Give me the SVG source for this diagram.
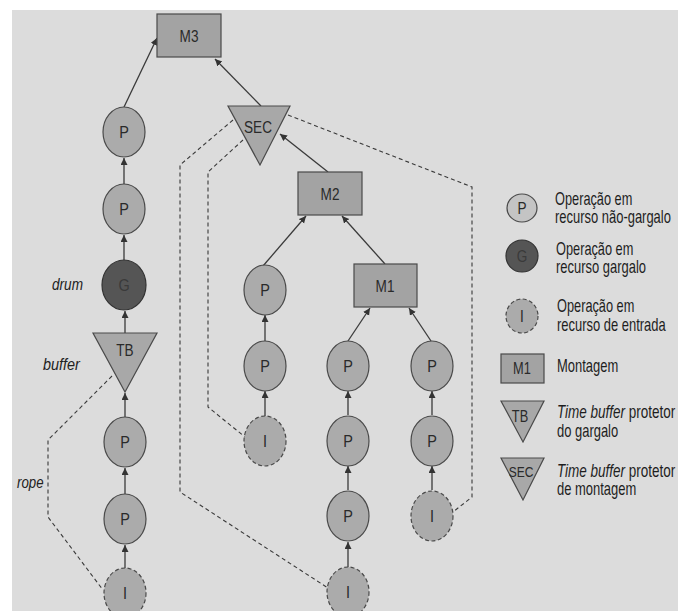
<svg xmlns="http://www.w3.org/2000/svg" width="678" height="611" viewBox="0 0 678 611">
<defs>
<marker id="ah" markerUnits="userSpaceOnUse" markerWidth="8" markerHeight="8" refX="7" refY="3.5" orient="auto">
<path d="M0,0 L7,3.5 L0,7 z" fill="#333"/>
</marker>
<style>
.bg{fill:#dcdcdc}
.op{fill:#ababab;stroke:#4a4a4a;stroke-width:1.2}
.opl{fill:#c4c4c4;stroke:#4a4a4a;stroke-width:1.2}
.gg{fill:#555;stroke:#333;stroke-width:1.2}
.in{fill:#ababab;stroke:#4a4a4a;stroke-width:1.2;stroke-dasharray:4 2.5}
.asm{fill:#a3a3a3;stroke:#4a4a4a;stroke-width:1.2}
.tri{fill:#a8a8a8;stroke:#4a4a4a;stroke-width:1.2}
.lbl{font-family:"Liberation Sans",Arial,sans-serif;font-size:17px;fill:#2a2a2a;text-anchor:middle}
.glbl{font-family:"Liberation Sans",Arial,sans-serif;font-size:17px;fill:#3a3a3a;text-anchor:middle}
.side{font-family:"Liberation Sans",Arial,sans-serif;font-size:17px;font-style:italic;fill:#222}
.leg{font-family:"Liberation Sans",Arial,sans-serif;font-size:18px;fill:#1e1e1e}
.arr{stroke:#3a3a3a;stroke-width:1.3;fill:none;marker-end:url(#ah)}
.rope{stroke:#3a3a3a;stroke-width:1.1;fill:none;stroke-dasharray:4 3}
</style>
</defs>
<rect x="0" y="0" width="678" height="611" fill="#ffffff"/>
<rect class="bg" x="12" y="10" width="666" height="601"/>

<g id="connectors">
<line class="arr" x1="124" y1="107" x2="157" y2="38"/>
<line class="arr" x1="124" y1="184" x2="124" y2="158"/>
<line class="arr" x1="124" y1="260" x2="124" y2="235"/>
<line class="arr" x1="125" y1="333" x2="125" y2="311"/>
<line class="arr" x1="125" y1="417" x2="125" y2="393"/>
<line class="arr" x1="125" y1="494" x2="125" y2="468"/>
<line class="arr" x1="125" y1="568" x2="125" y2="545"/>
<line class="arr" x1="261" y1="106" x2="215" y2="59"/>
<line class="arr" x1="328" y1="172" x2="280" y2="134"/>
<line class="arr" x1="263" y1="266" x2="306" y2="216"/>
<line class="arr" x1="385" y1="264" x2="342" y2="216"/>
<line class="arr" x1="265" y1="341" x2="265" y2="315"/>
<line class="arr" x1="265" y1="416" x2="265" y2="391"/>
<line class="arr" x1="348" y1="341" x2="370" y2="308"/>
<line class="arr" x1="348" y1="415" x2="348" y2="391"/>
<line class="arr" x1="348" y1="490" x2="348" y2="466"/>
<line class="arr" x1="348" y1="567" x2="348" y2="542"/>
<line class="arr" x1="431" y1="341" x2="409" y2="308"/>
<line class="arr" x1="432" y1="415" x2="432" y2="391"/>
<line class="arr" x1="432" y1="490" x2="432" y2="466"/>
<polyline class="rope" points="112,376 48,440 48,517 103,590"/>
<polyline class="rope" points="233,120 180,165 180,492 328,588"/>
<polyline class="rope" points="243,140 208,172 208,407 245,437"/>
<polyline class="rope" points="288,115 472,187 472,497 453,512"/>
</g>

<g id="M3"><rect class="asm" x="157" y="14" width="64" height="43"/><text class="lbl" transform="translate(189,42) scale(0.8,1)">M3</text></g>
<g id="P1"><ellipse class="op" cx="124" cy="132" rx="21" ry="25"/><text class="lbl" transform="translate(124,138) scale(0.85,1)">P</text></g>
<g id="P2"><ellipse class="op" cx="124" cy="209" rx="21" ry="25"/><text class="lbl" transform="translate(124,215) scale(0.85,1)">P</text></g>
<g id="G"><ellipse class="gg" cx="124" cy="285" rx="22" ry="25"/><text class="glbl" transform="translate(124,291) scale(0.85,1)">G</text></g>
<g id="TB"><polygon class="tri" points="93,333 157,333 125,392"/><text class="lbl" transform="translate(125,356) scale(0.8,1)">TB</text></g>
<g id="P3"><ellipse class="op" cx="125" cy="442" rx="21" ry="25"/><text class="lbl" transform="translate(125,448) scale(0.85,1)">P</text></g>
<g id="P4"><ellipse class="op" cx="125" cy="519" rx="21" ry="25"/><text class="lbl" transform="translate(125,525) scale(0.85,1)">P</text></g>
<g id="I1"><ellipse class="in" cx="125" cy="593" rx="21" ry="25"/><text class="lbl" transform="translate(125,599) scale(0.85,1)">I</text></g>

<g id="SEC"><polygon class="tri" points="228,106 290,106 260,165"/><text class="lbl" transform="translate(258,133) scale(0.8,1)">SEC</text></g>
<g id="M2"><rect class="asm" x="298" y="172" width="64" height="43"/><text class="lbl" transform="translate(330,200) scale(0.8,1)">M2</text></g>
<g id="M1"><rect class="asm" x="354" y="264" width="63" height="43"/><text class="lbl" transform="translate(385,292) scale(0.8,1)">M1</text></g>

<g id="P5"><ellipse class="op" cx="265" cy="290" rx="21" ry="25"/><text class="lbl" transform="translate(265,296) scale(0.85,1)">P</text></g>
<g id="P6"><ellipse class="op" cx="265" cy="366" rx="21" ry="25"/><text class="lbl" transform="translate(265,372) scale(0.85,1)">P</text></g>
<g id="I2"><ellipse class="in" cx="265" cy="441" rx="21" ry="25"/><text class="lbl" transform="translate(265,447) scale(0.85,1)">I</text></g>

<g id="P7"><ellipse class="op" cx="348" cy="366" rx="21" ry="25"/><text class="lbl" transform="translate(348,372) scale(0.85,1)">P</text></g>
<g id="P8"><ellipse class="op" cx="348" cy="441" rx="21" ry="25"/><text class="lbl" transform="translate(348,447) scale(0.85,1)">P</text></g>
<g id="P9"><ellipse class="op" cx="348" cy="516" rx="21" ry="25"/><text class="lbl" transform="translate(348,522) scale(0.85,1)">P</text></g>
<g id="I3"><ellipse class="in" cx="348" cy="592" rx="21" ry="25"/><text class="lbl" transform="translate(348,598) scale(0.85,1)">I</text></g>

<g id="P10"><ellipse class="op" cx="432" cy="366" rx="21" ry="25"/><text class="lbl" transform="translate(432,372) scale(0.85,1)">P</text></g>
<g id="P11"><ellipse class="op" cx="432" cy="441" rx="21" ry="25"/><text class="lbl" transform="translate(432,447) scale(0.85,1)">P</text></g>
<g id="I4"><ellipse class="in" cx="432" cy="516" rx="21" ry="25"/><text class="lbl" transform="translate(432,522) scale(0.85,1)">I</text></g>

<g id="labels">
<text class="side" transform="translate(52,290) scale(0.8,1)">drum</text>
<text class="side" transform="translate(43,370) scale(0.85,1)">buffer</text>
<text class="side" transform="translate(17,488) scale(0.78,1)">rope</text>
</g>

<g id="legend">
<g id="legP"><ellipse class="opl" cx="522" cy="208" rx="15" ry="14"/><text class="lbl" transform="translate(522,214) scale(0.85,1)" style="font-size:16px">P</text>
<text class="leg" transform="translate(555,205) scale(0.71,1)">Operação em</text>
<text class="leg" transform="translate(555,223) scale(0.72,1)">recurso não-gargalo</text></g>
<g id="legG"><ellipse class="gg" cx="522" cy="256" rx="16" ry="16"/><text class="glbl" transform="translate(522,262) scale(0.85,1)" style="font-size:16px">G</text>
<text class="leg" transform="translate(556,255) scale(0.71,1)">Operação em</text>
<text class="leg" transform="translate(556,273) scale(0.72,1)">recurso gargalo</text></g>
<g id="legI"><ellipse class="in" cx="522" cy="316" rx="16" ry="17"/><text class="lbl" transform="translate(522,322) scale(0.85,1)" style="font-size:16px">I</text>
<text class="leg" transform="translate(557,312) scale(0.71,1)">Operação em</text>
<text class="leg" transform="translate(557,331) scale(0.72,1)">recurso de entrada</text></g>
<g id="legM"><rect class="asm" x="501" y="354" width="43" height="29"/><text class="lbl" transform="translate(522,374) scale(0.8,1)" style="font-size:16px">M1</text>
<text class="leg" transform="translate(557,372) scale(0.72,1)">Montagem</text></g>
<g id="legTB"><polygon class="tri" points="501,401 544,401 523,442"/><text class="lbl" transform="translate(520,422) scale(0.8,1)" style="font-size:16px">TB</text>
<text class="leg" transform="translate(557,418) scale(0.75,1)"><tspan font-style="italic">Time buffer</tspan> protetor</text>
<text class="leg" transform="translate(557,437) scale(0.72,1)">do gargalo</text></g>
<g id="legSEC"><polygon class="tri" points="501,458 544,458 523,500"/><text class="lbl" transform="translate(521,477) scale(0.8,1)" style="font-size:15px">SEC</text>
<text class="leg" transform="translate(557,477) scale(0.75,1)"><tspan font-style="italic">Time buffer</tspan> protetor</text>
<text class="leg" transform="translate(557,495) scale(0.72,1)">de montagem</text></g>
</g>
</svg>
